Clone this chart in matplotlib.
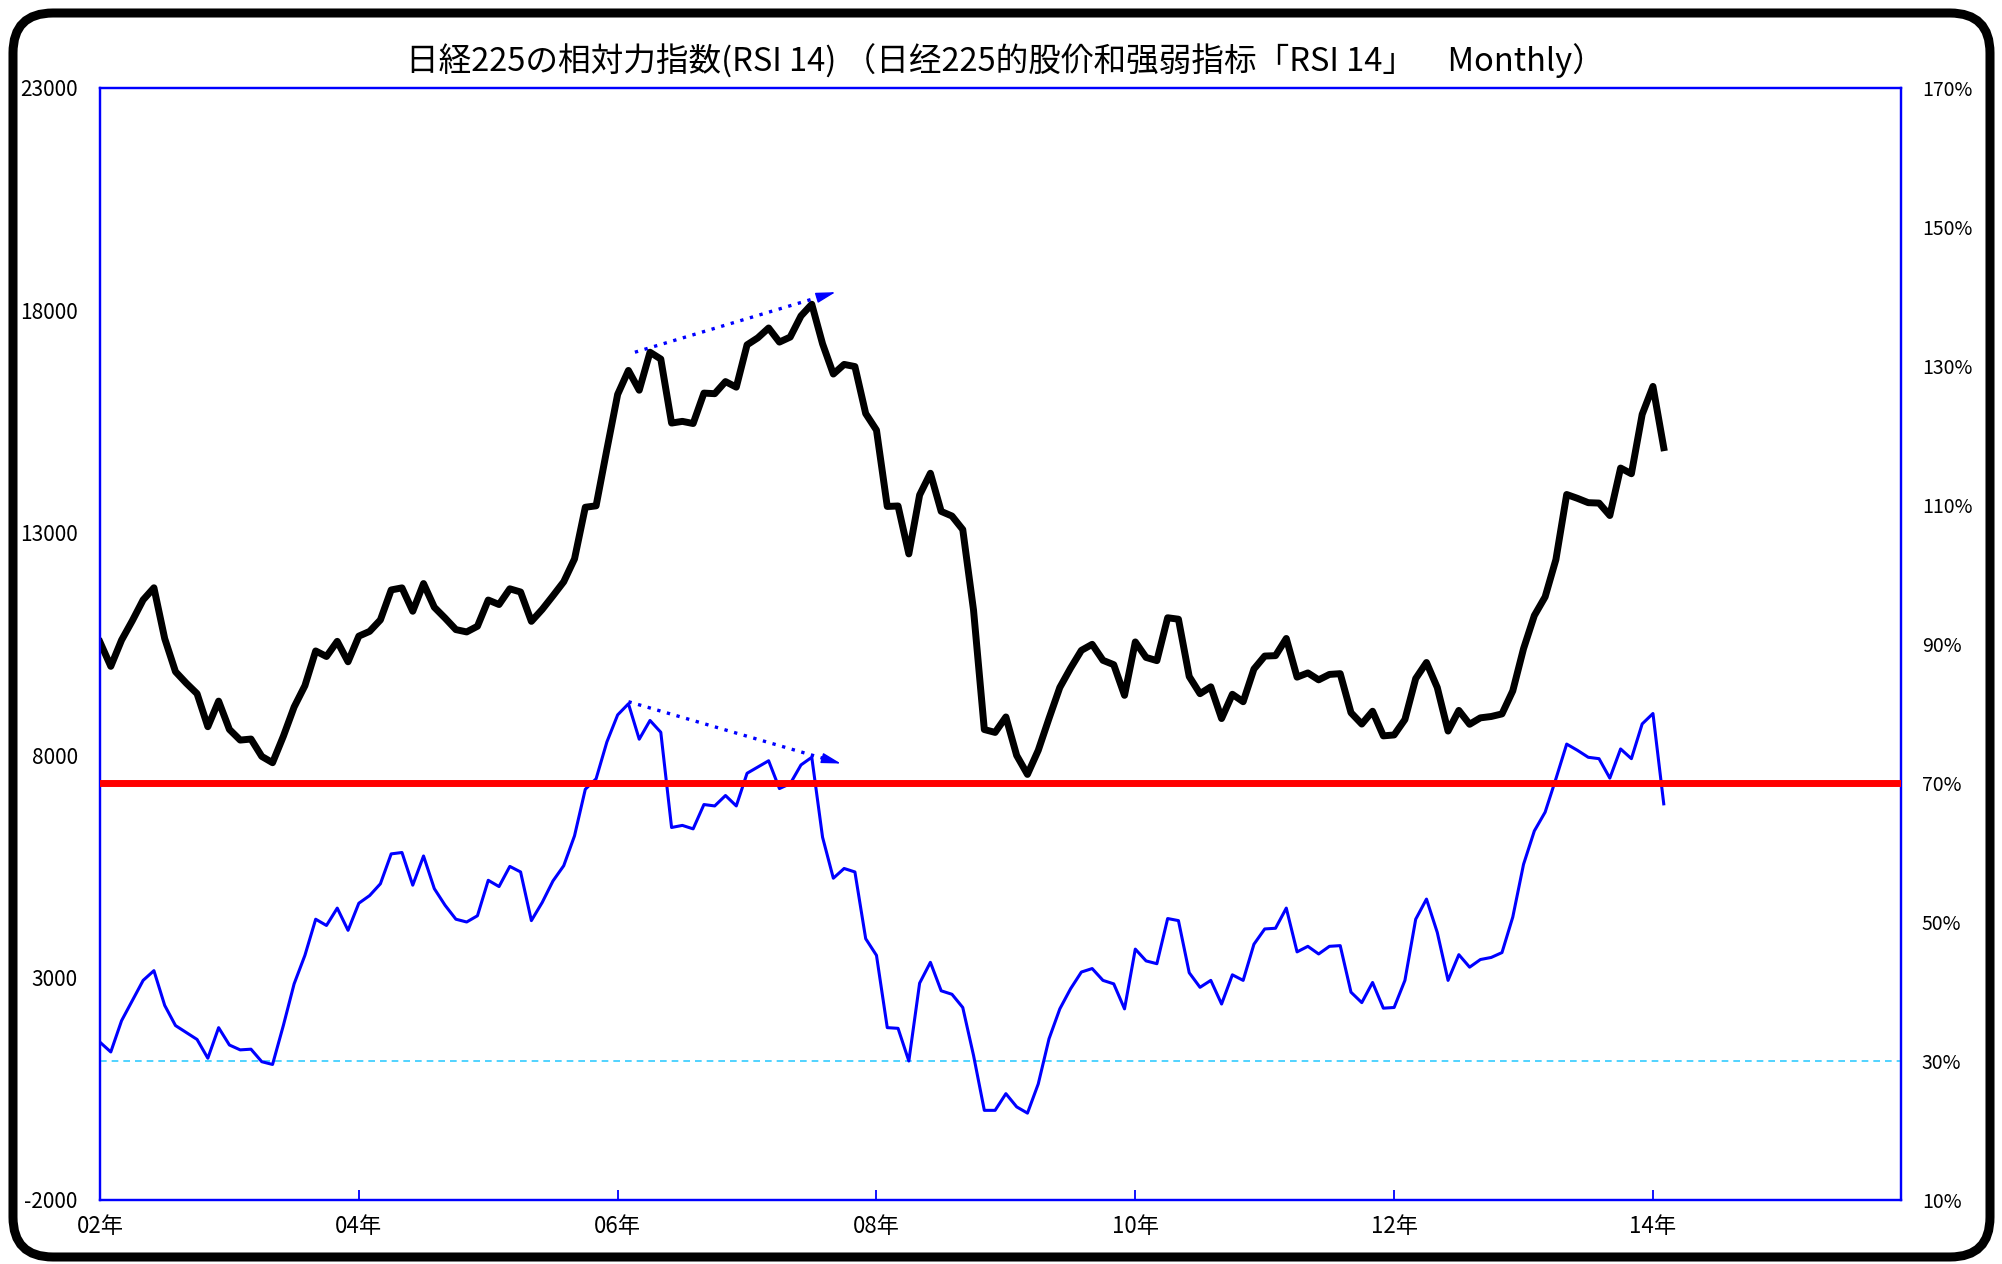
import matplotlib
matplotlib.use("Agg")
import matplotlib.pyplot as plt
from matplotlib.patches import FancyBboxPatch
from matplotlib.transforms import IdentityTransform

plt.rcParams["font.family"] = ["Noto Sans CJK JP", "DejaVu Sans"]

# month-end closes, index 0 = Dec 2001 (sits on the 02年 tick), last = Jan 2014
nikkei_close = [
    10542.62,
    9997.80, 10587.83, 11024.94, 11492.54, 11763.70, 10621.84,
    9877.94, 9619.30, 9383.29, 8640.48, 9215.56, 8578.95,
    8339.94, 8363.04, 7972.71, 7831.42, 8424.51, 9083.11,
    9563.21, 10343.55, 10219.05, 10559.59, 10100.57, 10676.64,
    10783.61, 11041.92, 11715.39, 11761.79, 11236.37, 11858.87,
    11325.78, 11081.79, 10823.57, 10771.42, 10899.25, 11488.76,
    11387.59, 11740.60, 11668.95, 11008.90, 11276.59, 11584.01,
    11899.60, 12413.60, 13574.30, 13606.50, 14872.15, 16111.43,
    16649.82, 16205.43, 17059.66, 16906.23, 15467.33, 15505.18,
    15456.81, 16140.76, 16127.58, 16399.39, 16274.33, 17225.83,
    17383.42, 17604.12, 17287.65, 17400.41, 17875.75, 18138.36,
    17248.89, 16569.09, 16785.69, 16737.63, 15680.67, 15307.78,
    13592.47, 13603.02, 12525.54, 13849.99, 14338.54, 13481.38,
    13376.81, 13072.87, 11259.86, 8576.98, 8512.27, 8859.56,
    7994.05, 7568.42, 8109.53, 8828.26, 9522.50, 9958.44,
    10356.83, 10492.53, 10133.23, 10034.74, 9345.55, 10546.44,
    10198.04, 10126.03, 11089.94, 11057.40, 9768.70, 9382.64,
    9537.30, 8824.06, 9369.35, 9202.45, 9937.04, 10228.92,
    10237.92, 10624.09, 9755.10, 9849.74, 9693.73, 9816.09,
    9833.03, 8955.20, 8700.29, 8988.39, 8434.61, 8455.35,
    8802.51, 9723.24, 10083.56, 9520.89, 8542.73, 9006.78,
    8695.06, 8839.91, 8870.16, 8928.29, 9446.01, 10395.18,
    11138.66, 11559.36, 12397.91, 13860.86, 13774.54, 13677.32,
    13668.32, 13388.86, 14455.80, 14327.94, 15661.87, 16291.31,
    14914.53,
]

# RSI(14), same months
rsi14 = [
    32.7,
    31.3, 35.8, 38.7, 41.6, 43.0, 38.0, 35.1, 34.1, 33.1, 30.4, 34.8, 32.3,
    31.6, 31.7, 29.9, 29.5, 35.1, 41.1, 45.2, 50.4, 49.5, 52.0, 48.8, 52.7,
    53.8, 55.5, 59.8, 60.0, 55.3, 59.5, 54.8, 52.4, 50.4, 50.0, 50.9, 56.0,
    55.1, 58.0, 57.2, 50.2, 52.8, 55.9, 58.1, 62.4, 69.1, 70.6, 75.9, 79.8,
    81.4, 76.3, 79.0, 77.3, 63.6, 63.9, 63.4, 66.9, 66.7, 68.2, 66.7, 71.4,
    72.3, 73.2, 69.2, 69.9, 72.6, 73.7, 62.2, 56.3, 57.7, 57.2, 47.6, 45.2,
    34.8, 34.7, 30.0, 41.2, 44.2, 40.1, 39.6, 37.7, 30.8, 22.9, 22.9, 25.3,
    23.4, 22.5, 26.7, 33.2, 37.5, 40.4, 42.8, 43.3, 41.6, 41.1, 37.5, 46.1,
    44.4, 44.0, 50.5, 50.2, 42.7, 40.6, 41.6, 38.2, 42.4, 41.6, 46.8, 49.0,
    49.1, 52.0, 45.7, 46.5, 45.4, 46.5, 46.6, 39.9, 38.4, 41.3, 37.6, 37.7,
    41.6, 50.4, 53.3, 48.5, 41.6, 45.3, 43.5, 44.6, 44.9, 45.6, 50.7, 58.3,
    63.1, 65.8, 70.6, 75.6, 74.7, 73.7, 73.5, 70.7, 74.9, 73.5, 78.5, 80.0,
    67.0,
]

year_ticks = [0, 24, 48, 72, 96, 120, 144]
year_labels = ["02年", "04年", "06年", "08年", "10年", "12年", "14年"]
price_ticks = [-2000, 3000, 8000, 13000, 18000, 23000]
rsi_ticks = [10, 30, 50, 70, 90, 110, 130, 150, 170]
OVERBOUGHT = 70
OVERSOLD = 30

# divergence arrows (start, end) in data coords
PRICE_ARROW = ((49.6, 17060), (68.2, 18410))
RSI_ARROW = ((49.0, 81.7), (68.7, 72.8))

TITLE = "日経225の相対力指数(RSI 14) （日经225的股价和强弱指标「RSI 14」　Monthly）"

months = list(range(len(nikkei_close)))

fig = plt.figure(figsize=(20.02, 12.64), dpi=100)
ax = fig.add_axes([100 / 2002, 64 / 1264, 1801 / 2002, 1112 / 1264])
ax2 = ax.twinx()

ax.plot(months, nikkei_close, color="black", lw=5, zorder=3)
ax2.plot(months, rsi14, color="#0000FF", lw=2.2, zorder=2)
ax2.axhline(OVERBOUGHT, color="#FF0000", lw=5, zorder=3)
ax2.axhline(OVERSOLD, color="#33CCFF", lw=1.2, linestyle=(0, (4, 3)), zorder=1)


def dotted_arrow(a, start, end, frac=0.075):
    # dotted shaft up to the head base, then a solid filled head
    bx = end[0] - frac * (end[0] - start[0])
    by = end[1] - frac * (end[1] - start[1])
    a.plot([start[0], bx], [start[1], by], color="#0000FF", lw=2.4,
           linestyle=(0, (1, 2)), zorder=4)
    a.annotate("", xy=end, xytext=(bx, by), zorder=4,
               arrowprops=dict(arrowstyle="-|>,head_length=0.6,head_width=0.16",
                               color="#0000FF", lw=1, mutation_scale=20,
                               shrinkA=0, shrinkB=0))


dotted_arrow(ax, *PRICE_ARROW)
dotted_arrow(ax2, *RSI_ARROW)

ax.set_xlim(0, 167)
ax.set_ylim(-2000, 23000)
ax2.set_ylim(10, 170)

ax.set_xticks(year_ticks)
ax.set_xticklabels(year_labels)
ax.set_yticks(price_ticks)
ax.set_yticklabels([str(v) for v in price_ticks])
ax2.set_yticks(rsi_ticks)
ax2.set_yticklabels([f"{v}%" for v in rsi_ticks])

ax.tick_params(axis="x", direction="in", length=7, width=1.3, color="#0000FF",
               pad=11, labelsize=16)
ax.tick_params(axis="y", length=0, pad=16, labelsize=15)
ax2.tick_params(axis="y", length=0, pad=15, labelsize=14)

for a in (ax, ax2):
    for s in a.spines.values():
        s.set_color("#0000FF")
        s.set_linewidth(1.6)

fig.text(1005 / 2002, 1 - 61 / 1264, TITLE, ha="center", va="center",
         fontsize=23.5)

# rounded frame around the whole picture
frame = FancyBboxPatch((13, 7), 1977, 1244,
                       boxstyle="round,pad=0,rounding_size=40",
                       transform=IdentityTransform(), fill=False,
                       edgecolor="black", lw=6.5)
fig.add_artist(frame)

fig.savefig("out.png", dpi=100)
